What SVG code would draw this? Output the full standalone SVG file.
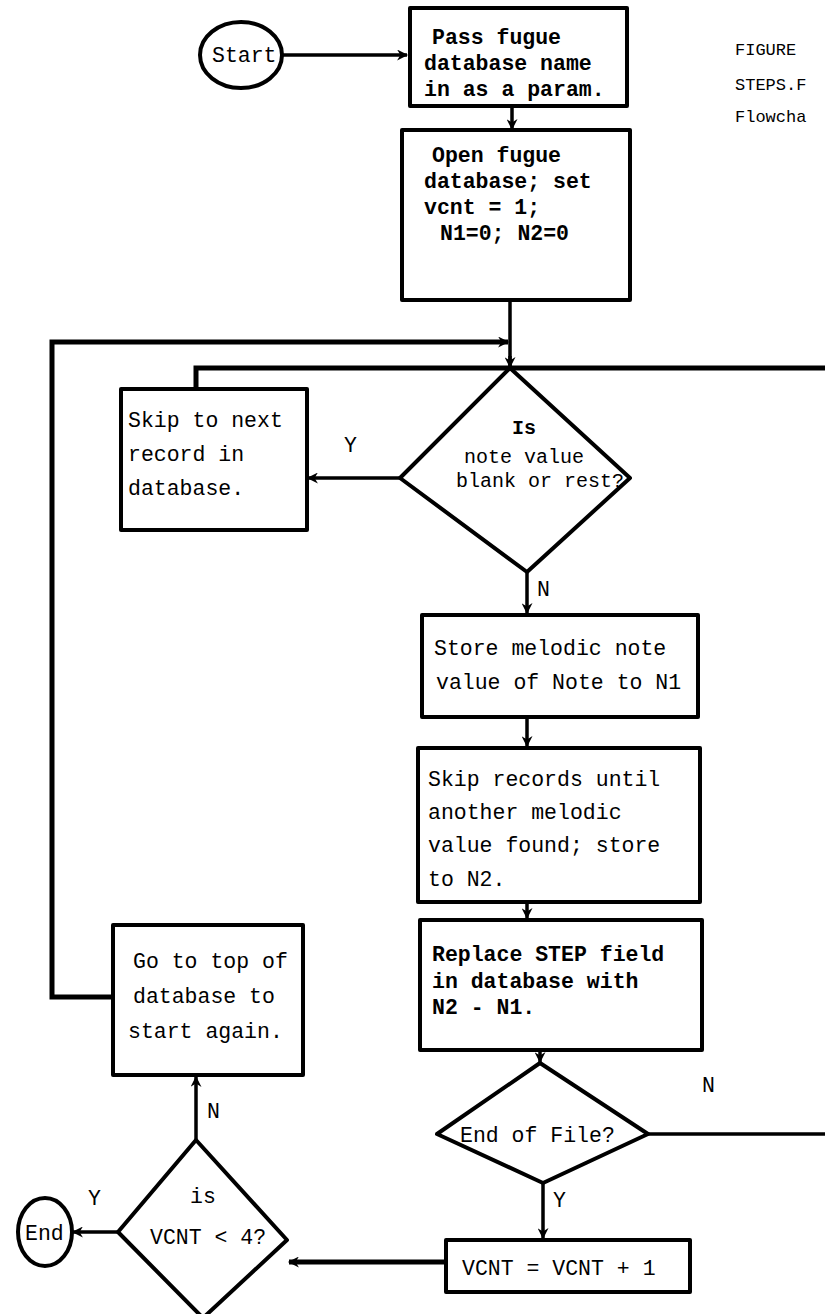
<svg xmlns="http://www.w3.org/2000/svg" width="825" height="1314" viewBox="0 0 825 1314">
  <style>
    .shape { fill: #fff; stroke: #000; stroke-width: 4; stroke-linejoin: round; }
    .line { fill: none; stroke: #000; stroke-width: 3.5; }
    .thick { fill: none; stroke: #000; stroke-width: 5; }
    text { font-family: "Liberation Mono", "DejaVu Sans Mono", monospace; font-size: 21.5px; fill: #000; }
    .b { font-weight: bold; }
    .d { font-size: 20px; }
    .small { font-size: 17px; }
  </style>
  <defs>
    <marker id="arrow" viewBox="0 0 10 10" refX="9" refY="5" markerWidth="12" markerHeight="11" orient="auto" markerUnits="userSpaceOnUse">
      <path d="M0,0 L10,5 L0,10 L3,5 z" fill="#000"/>
    </marker>
  </defs>
  <rect width="825" height="1314" fill="#fff"/>

  <!-- connectors -->
  <g id="connectors">
    <path class="line" d="M283,55 H407" marker-end="url(#arrow)"/>
    <path class="line" d="M512,106 V129" marker-end="url(#arrow)"/>
    <path class="line" d="M510,300 V366"/>
    <!-- return loop from "Go to top" -->
    <path class="thick" d="M113,997 H52 V342 H508" marker-end="url(#arrow)"/>
    <!-- return loop from "Skip to next" and from End-of-File N branch -->
    <path class="thick" d="M196,388 V368 H825"/>
    <path class="line" d="M510,356 V367" marker-end="url(#arrow)"/>
    <path class="line" d="M400,478 H308" marker-end="url(#arrow)"/>
    <path class="line" d="M527,572 V613" marker-end="url(#arrow)"/>
    <path class="line" d="M527,717 V746" marker-end="url(#arrow)"/>
    <path class="line" d="M527,902 V918" marker-end="url(#arrow)"/>
    <path class="line" d="M540,1050 V1062" marker-end="url(#arrow)"/>
    <path class="line" d="M648,1134 H825"/>
    <path class="line" d="M543,1183 V1238" marker-end="url(#arrow)"/>
    <path class="thick" d="M446,1262 H289" marker-end="url(#arrow)"/>
    <path class="line" d="M196,1140 V1077" marker-end="url(#arrow)"/>
    <path class="line" d="M118,1232 H73" marker-end="url(#arrow)"/>
  </g>

  <g id="start">
    <ellipse class="shape" cx="241" cy="55" rx="41" ry="33"/>
    <text x="212" y="62">Start</text>
  </g>

  <g id="pass-name">
    <rect class="shape" x="410" y="8" width="217" height="98"/>
    <text class="b" x="432" y="44">Pass fugue</text>
    <text class="b" x="424" y="70">database name</text>
    <text class="b" x="424" y="96">in as a param.</text>
  </g>

  <g id="open-db">
    <rect class="shape" x="402" y="130" width="228" height="170"/>
    <text class="b" x="432" y="162">Open fugue</text>
    <text class="b" x="424" y="188">database; set</text>
    <text class="b" x="424" y="214">vcnt = 1;</text>
    <text class="b" x="440" y="240">N1=0; N2=0</text>
  </g>

  <g id="is-blank">
    <path class="shape" d="M510,368 L630,478 L527,572 L400,478 Z"/>
    <text class="d b" x="512" y="434">Is</text>
    <text class="d" x="464" y="463">note value</text>
    <text class="d" x="456" y="487">blank or rest?</text>
    <text x="344" y="452">Y</text>
    <text x="537" y="596">N</text>
  </g>

  <g id="skip-next">
    <rect class="shape" x="121" y="389" width="186" height="141"/>
    <text x="128" y="427">Skip to next</text>
    <text x="128" y="461">record in</text>
    <text x="128" y="495">database.</text>
  </g>

  <g id="store-n1">
    <rect class="shape" x="422" y="615" width="276" height="102"/>
    <text x="434" y="655">Store melodic note</text>
    <text x="436" y="689">value of Note to N1</text>
  </g>

  <g id="skip-records">
    <rect class="shape" x="418" y="748" width="282" height="154"/>
    <text x="428" y="786">Skip records until</text>
    <text x="428" y="819">another melodic</text>
    <text x="428" y="852">value found; store</text>
    <text x="428" y="886">to N2.</text>
  </g>

  <g id="replace-step">
    <rect class="shape" x="420" y="920" width="282" height="130"/>
    <text class="b" x="432" y="961">Replace STEP field</text>
    <text class="b" x="432" y="988">in database with</text>
    <text class="b" x="432" y="1014">N2 - N1.</text>
  </g>

  <g id="end-of-file">
    <path class="shape" d="M540,1063 L648,1134 L543,1183 L437,1134 Z"/>
    <text x="460" y="1142">End of File?</text>
    <text x="702" y="1092">N</text>
    <text x="553" y="1207">Y</text>
  </g>

  <g id="inc-vcnt">
    <rect class="shape" x="446" y="1240" width="244" height="52"/>
    <text x="462" y="1275">VCNT = VCNT + 1</text>
  </g>

  <g id="vcnt-check">
    <path class="shape" d="M196,1140 L287,1240 L203,1318 L118,1232 Z"/>
    <text x="190" y="1203">is</text>
    <text x="150" y="1244">VCNT &lt; 4?</text>
    <text x="207" y="1118">N</text>
    <text x="88" y="1205">Y</text>
  </g>

  <g id="end">
    <ellipse class="shape" cx="45" cy="1232" rx="27" ry="34"/>
    <text x="25" y="1240">End</text>
  </g>

  <g id="go-top">
    <rect class="shape" x="113" y="925" width="190" height="150"/>
    <text x="133" y="968">Go to top of</text>
    <text x="133" y="1003">database to</text>
    <text x="128" y="1038">start again.</text>
  </g>

  <g id="caption">
    <text class="small" x="735" y="55">FIGURE</text>
    <text class="small" x="735" y="90">STEPS.F</text>
    <text class="small" x="735" y="122">Flowcha</text>
  </g>
</svg>
